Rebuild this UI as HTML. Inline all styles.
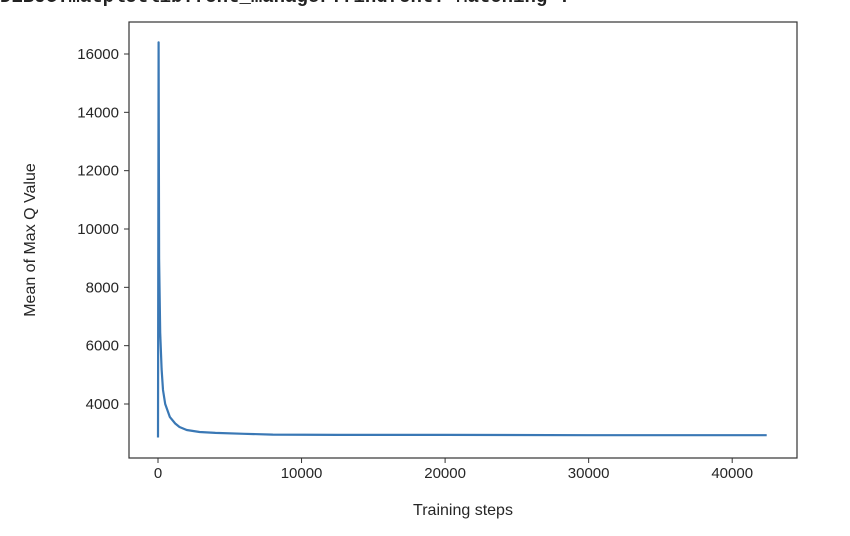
<!DOCTYPE html>
<html><head><meta charset="utf-8"><style>
body{margin:0;background:#fff;width:850px;height:536px;overflow:hidden;position:relative;font-family:"Liberation Sans","DejaVu Sans",sans-serif}
#warn{position:absolute;left:0;top:-14px;font-family:"Liberation Mono",monospace;font-weight:bold;font-size:19px;color:#222;white-space:nowrap}
</style></head><body>
<div id="warn">DEBUG:matplotlib.font_manager:findfont: Matching :</div>
<svg id="chart" width="850" height="536" style="position:absolute;left:0;top:0"></svg>
<script>
const steps=[0,40,80,150,250,350,500,830,1200,1500,2000,2900,4000,6000,8000,12500,20000,30000,42400];
const qvals=[2850,16400,9000,6440,5200,4480,4000,3550,3330,3210,3110,3040,3010,2980,2950,2940,2940,2930,2930];
const xTicks=[0,10000,20000,30000,40000];
const yTicks=[4000,6000,8000,10000,12000,14000,16000];
const L=129,R=797,T=22,B=458;
const xs=v=>158+v*0.014355;
const ys=v=>404-(v-4000)*0.029167;
const svg=document.getElementById('chart');
const NS='http://www.w3.org/2000/svg';
function mk(t,a){const e=document.createElementNS(NS,t);for(const k in a)e.setAttribute(k,a[k]);svg.appendChild(e);return e;}
let d=steps.map((s,i)=>(i?'L':'M')+xs(s).toFixed(1)+','+ys(qvals[i]).toFixed(1)).join(' ');
const line=mk('path',{d:d,fill:'none',stroke:'#3a78b5','stroke-width':2.2,'stroke-linejoin':'round'});


const frame=mk('rect',{x:L,y:T,width:R-L,height:B-T,fill:'none',stroke:'#333','stroke-width':1.2});


xTicks.forEach(v=>{const x=xs(v);
 mk('line',{x1:x,x2:x,y1:B,y2:B+5,stroke:'#333'});
 const t=mk('text',{x:x,y:B+20,'text-anchor':'middle','font-size':15,fill:'#262626'});t.textContent=v;
 
 
});
yTicks.forEach(v=>{const y=ys(v);
 mk('line',{x1:L-5,x2:L,y1:y,y2:y,stroke:'#333'});
 const t=mk('text',{x:L-10,y:y+5,'text-anchor':'end','font-size':15,fill:'#262626'});t.textContent=v;
 
 
});
const xt=mk('text',{x:463,y:515,'text-anchor':'middle','font-size':16,fill:'#262626'});xt.textContent='Training steps';


const yt=mk('text',{x:0,y:0,'text-anchor':'middle','font-size':16,fill:'#262626',transform:'translate(35,240) rotate(-90)'});yt.textContent='Mean of Max Q Value';


</script>
</body></html>
